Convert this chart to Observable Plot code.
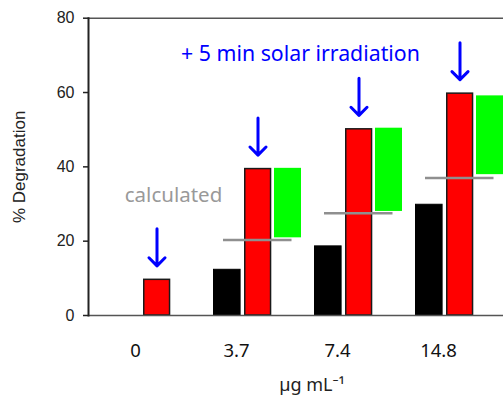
<!DOCTYPE html>
<html><head><meta charset="utf-8">
<script src="https://cdn.jsdelivr.net/npm/d3@7"></script>
<script src="https://cdn.jsdelivr.net/npm/@observablehq/plot@0.6"></script>
<style>body{margin:0;background:#fff}</style>
</head><body><div id="chart"></div>
<script>
const categories = ["0", "3.7", "7.4", "14.8"];
const darkValues = [0, 12.3, 18.6, 29.8];
const irradiatedValues = [9.6, 39.4, 50.1, 59.7];
const calcCategories = ["3.7", "7.4", "14.8"];
const calculatedValues = [20.3, 27.5, 37.0];
const greenLow = [20.9, 28.0, 37.9];
const greenHigh = [39.6, 50.4, 59.1];
const yTicks = [0, 20, 40, 60, 80];
const yLabel = "% Degradation";
const xLabel = "µg mL⁻¹";
const calcNote = {t: "calculated", x: "0", y: 32.2};
const irrNote = {t: "+ 5 min solar irradiation", x: "3.7", y: 70.3};

const dark = categories.map((c, i) => ({c, v: darkValues[i]})).filter(d => d.v > 0);
const irr = categories.map((c, i) => ({c, v: irradiatedValues[i]}));
const calc = calcCategories.map((c, i) => ({c, v: calculatedValues[i]}));
const green = calcCategories.map((c, i) => ({c, lo: greenLow[i], hi: greenHigh[i]}));

const sans = "Noto Sans, Open Sans, sans-serif";

const chart = Plot.plot({
  width: 503, height: 402,
  marginLeft: 88, marginRight: 0, marginTop: 17.7, marginBottom: 87,
  style: {background: "#fff", fontFamily: "Liberation Sans, Arial, sans-serif", overflow: "visible"},
  x: {domain: categories, paddingInner: 0.125, paddingOuter: 0.1032, align: 1, axis: null},
  y: {domain: [0, 80], axis: null},
  marks: [
    Plot.ruleY([80], {stroke: "#555", strokeWidth: 1.5}),
    Plot.barY(green, {x: "c", y1: "lo", y2: "hi", fill: "#00ff00", insetLeft: 61, insetRight: 0}),
    Plot.barY(dark, {x: "c", y: "v", fill: "#000", stroke: "#000", strokeWidth: 1, insetLeft: 0.5, insetRight: 60.9}),
    Plot.barY(irr, {x: "c", y: "v", fill: "#ff0000", stroke: "#1a1a1a", strokeWidth: 1.5, insetLeft: 31.75, insetRight: 30.45}),
    Plot.tickY(calc, {x: "c", y: "v", stroke: "#8f8f8f", strokeWidth: 2.5, insetLeft: 10, insetRight: 9.5}),
    Plot.vector(irr, {x: "c", y: "v", length: 37, rotate: 180, anchor: "end", dy: -14, dx: 0.5, stroke: "#0000ff", strokeWidth: 3, r: 3.8}),
    Plot.ruleY([0], {stroke: "#555", strokeWidth: 1.5}),
    Plot.frame({anchor: "left", stroke: "#222", strokeWidth: 2}),
    Plot.axisY({ticks: yTicks, tickSize: 5, tickPadding: 9, fontSize: 16, label: null, color: "#222", strokeWidth: 1.5}),
    Plot.axisX({tickSize: 0, tickPadding: 28, fontSize: 18.5, fontFamily: sans, dx: -21, color: "#111", label: null}),
    Plot.text([yLabel], {text: d => d, frameAnchor: "left", textAnchor: "middle", lineAnchor: "middle", rotate: -90, dx: -69, fontSize: 17, fill: "#222"}),
    Plot.text([xLabel], {text: d => d, frameAnchor: "bottom", textAnchor: "middle", lineAnchor: "middle", dy: 70, dx: 16, fontSize: 18, fontFamily: sans, fill: "#222"}),
    Plot.text([calcNote], {x: "x", y: "y", text: "t", dx: 17, fontSize: 20.5, fontFamily: sans, fill: "#999"}),
    Plot.text([irrNote], {x: "x", y: "y", text: "t", dx: 43, fontSize: 21.3, fontFamily: sans, fill: "#0000ff"})
  ]
});
document.getElementById("chart").appendChild(chart);
</script>
</body></html>
